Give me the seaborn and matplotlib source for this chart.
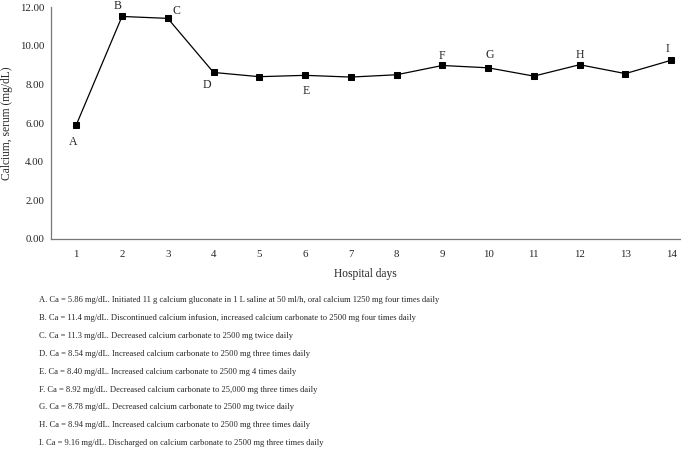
import pandas as pd
import numpy as np
import matplotlib.pyplot as plt
import seaborn as sns

# data
days = list(range(1, 15))
calcium = [5.90, 11.52, 11.42, 8.62, 8.40, 8.47, 8.38, 8.50, 8.98, 8.86, 8.43, 9.02, 8.56, 9.25]
point_labels = {1: "A", 2: "B", 3: "C", 4: "D", 6: "E", 9: "F", 10: "G", 12: "H", 14: "I"}
notes = [
    "A. Ca = 5.86 mg/dL. Initiated 11 g calcium gluconate in 1 L saline at 50 ml/h, oral calcium 1250 mg four times daily",
    "B. Ca = 11.4 mg/dL. Discontinued calcium infusion, increased calcium carbonate to 2500 mg four times daily",
    "C. Ca = 11.3 mg/dL. Decreased calcium carbonate to 2500 mg twice daily",
    "D. Ca = 8.54 mg/dL. Increased calcium carbonate to 2500 mg three times daily",
    "E. Ca = 8.40 mg/dL. Increased calcium carbonate to 2500 mg 4 times daily",
    "F. Ca = 8.92 mg/dL. Decreased calcium carbonate to 25,000 mg three times daily",
    "G. Ca = 8.78 mg/dL. Decreased calcium carbonate to 2500 mg twice daily",
    "H. Ca = 8.94 mg/dL. Increased calcium carbonate to 2500 mg three times daily",
    "I. Ca = 9.16 mg/dL. Discharged on calcium carbonate to 2500 mg three times daily",
]

df = pd.DataFrame({"day": days, "ca": calcium})

sns.set_style("white")
plt.rcParams['font.family'] = ['Liberation Serif', 'DejaVu Serif']

fig = plt.figure(figsize=(6.81, 4.49), dpi=100)
ax = fig.add_axes([0.075, 0.468, 0.924, 0.516])

sns.lineplot(data=df, x="day", y="ca", ax=ax, color="black", linewidth=0.9,
             marker="s", markersize=5, markeredgecolor="black")

# letter labels next to the points: (dx, dy) in points
offsets = {"A": (-2, -12), "B": (-3.5, 7.5), "C": (6.5, 5), "D": (-5, -9), "E": (1, -11),
           "F": (0, 6.5), "G": (1.5, 9), "H": (0, 7), "I": (-3, 8)}
for d, lab in point_labels.items():
    dx, dy = offsets[lab]
    ax.annotate(lab, (d, calcium[d - 1]), xytext=(dx, dy), textcoords="offset points",
                ha="center", va="center", fontsize=8.5)

ax.set_xlim(0.45, 14.2)
ax.set_ylim(0, 12)
ax.set_xticks(days)
ax.set_yticks(np.arange(0, 12.01, 2))
ax.set_yticklabels([f"{v:.2f}" for v in np.arange(0, 12.01, 2)])
ax.tick_params(axis="both", length=0, labelsize=7.8)
ax.tick_params(axis="y", pad=5)
ax.tick_params(axis="x", pad=8)
ax.set_xlabel("Hospital days", fontsize=8.3)
ax.xaxis.set_label_coords(0.5, -29 / 232, transform=ax.transAxes)
ax.set_ylabel("Calcium, serum (mg/dL)", fontsize=8.3)
ax.yaxis.set_label_coords(-38 / 629, 0.5, transform=ax.transAxes)
sns.despine(ax=ax)
for s in ["left", "bottom"]:
    ax.spines[s].set_color("#777777")
    ax.spines[s].set_linewidth(0.9)

y0 = 1 - 300 / 449
for i, line in enumerate(notes):
    fig.text(0.057, y0 - i * 17.9 / 449, line, fontsize=6.1, va="center", ha="left")

fig.savefig("out.png", dpi=100)
